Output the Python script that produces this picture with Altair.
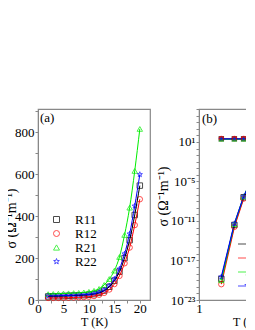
import altair as alt
import pandas as pd

series = ["R11", "R12", "R21", "R22"]
colors = ["#000000", "#ff0000", "#00ee00", "#0000ff"]
STAR = ("M0,-1L0.235,-0.324L0.951,-0.309L0.380,0.124L0.588,0.809L0,0.4"
        "L-0.588,0.809L-0.380,0.124L-0.951,-0.309L-0.235,-0.324Z")
shapes = ["square", "circle", "triangle-up", STAR]

# legend symbols for panel (b): line segment + marker
LEG_SQ = "M-2,0H2M-0.5,-0.5H0.5V0.5H-0.5Z"
LEG_CI = "M-2,0H2M0.55,0A0.55,0.55 0 1,1 -0.55,0A0.55,0.55 0 1,1 0.55,0Z"
LEG_TR = "M-2,0H2M0,-0.6L0.6,0.45H-0.6Z"
LEG_ST = ("M-2,0H2M0,-0.75L0.176,-0.243L0.713,-0.232L0.285,0.093L0.441,0.607"
          "L0,0.3L-0.441,0.607L-0.285,0.093L-0.713,-0.232L-0.176,-0.243Z")

# ---- panel (a): sigma vs T (linear)
T_a = [2, 3, 4, 5, 6, 7, 8, 9, 10, 11, 12, 13, 14, 15, 16, 17, 18, 19, 20]
sig_R11 = [17, 18, 18, 19, 20, 21, 22, 23, 25, 28, 34, 45, 63, 92, 135, 200, 285, 405, 545]
sig_R12 = [10, 10, 10, 11, 11, 12, 13, 14, 16, 19, 25, 34, 50, 76, 115, 175, 250, 357, 480]
sig_R21 = [28, 29, 30, 31, 32, 33, 34, 36, 39, 44, 53, 72, 100, 140, 205, 310, 440, 615, 815]
sig_R22 = [19, 20, 20, 21, 22, 23, 24, 25, 27, 30, 37, 48, 68, 100, 148, 220, 315, 448, 598]

# ---- panel (b): log-log, two components
T_b = [2, 3, 4, 5, 6, 7]
up_R11 = [30, 30, 30, 30, 30, 30]
up_R12 = [32, 32, 32, 32, 32, 32]
up_R21 = [27, 27, 27, 27, 27, 27]
up_R22 = [29, 29, 29, 29, 29, 29]
lo_R11 = [1.6e-20, 2.5e-12, 4.0e-8, 1.0e-5, 4.0e-4, 5.0e-3]
lo_R12 = [2.5e-21, 1.3e-12, 2.5e-8, 6.3e-6, 2.5e-4, 4.0e-3]
lo_R21 = [1.0e-20, 3.2e-12, 5.0e-8, 1.3e-5, 5.0e-4, 8.0e-3]
lo_R22 = [3.2e-20, 4.0e-12, 5.0e-8, 1.0e-5, 4.0e-4, 5.0e-3]

FONT = "Liberation Serif"

rows_a = []
for s, vals in zip(series, [sig_R11, sig_R12, sig_R21, sig_R22]):
    for t, v in zip(T_a, vals):
        rows_a.append({"series": s, "T": t, "sigma": v})
df_a = pd.DataFrame(rows_a)

rows_b = []
for s, up, lo in zip(series, [up_R11, up_R12, up_R21, up_R22],
                     [lo_R11, lo_R12, lo_R21, lo_R22]):
    for t, v in zip(T_b, up):
        rows_b.append({"series": s, "grp": "up", "T": t, "sigma": v})
    for t, v in zip(T_b, lo):
        rows_b.append({"series": s, "grp": "lo", "T": t, "sigma": v})
df_b = pd.DataFrame(rows_b)

ytitle = "σ (Ω⁻¹m⁻¹)"

# ---------------- panel (a)
xa = alt.X("T:Q", scale=alt.Scale(domain=[0, 22], nice=False),
           axis=alt.Axis(values=[0, 2.5, 5, 7.5, 10, 12.5, 15, 17.5, 20],
                         labelExpr="datum.value % 5 == 0 ? datum.label : ''",
                         title="T (K)", grid=False))
ya = alt.Y("sigma:Q", scale=alt.Scale(domain=[0, 910], nice=False),
           axis=alt.Axis(values=[0, 100, 200, 300, 400, 500, 600, 700, 800, 900],
                         labelExpr="datum.value % 200 == 0 ? datum.label : ''",
                         title=ytitle, grid=False, titleX=-20, titleY=109,
                         titleFontSize=14))
leg_a = dict(title=None, orient="none", legendX=12, legendY=104,
             symbolSize=36, symbolStrokeWidth=1,
             labelFontSize=13, labelFont=FONT, rowPadding=0,
             labelOffset=12)
col_a = alt.Color("series:N", scale=alt.Scale(domain=series, range=colors),
                  legend=alt.Legend(**leg_a))
shp_a = alt.Shape("series:N", scale=alt.Scale(domain=series, range=shapes),
                  legend=alt.Legend(**leg_a))
base_a = alt.Chart(df_a)
pts_a = base_a.mark_point(filled=False, size=30, strokeWidth=1).encode(
    x=xa, y=ya, color=col_a, shape=shp_a)
lines_a = base_a.mark_line(strokeWidth=1, interpolate="monotone").encode(
    x=xa, y=ya, color=col_a)
lab_a = alt.Chart(pd.DataFrame({"t": ["(a)"]})).mark_text(
    align="left", baseline="top", font=FONT, fontSize=13, color="black").encode(
    x=alt.value(2), y=alt.value(3), text="t:N")
panel_a = alt.layer(pts_a, lines_a, lab_a).properties(width=112, height=191)

# ---------------- panel (b)
lab_expr = ("round(log(datum.value)/LN10) == 1 ? '10¹' : "
            "round(log(datum.value)/LN10) == -5 ? '10⁻⁵' : "
            "round(log(datum.value)/LN10) == -11 ? '10⁻¹¹' : "
            "round(log(datum.value)/LN10) == -17 ? '10⁻¹⁷' : "
            "round(log(datum.value)/LN10) == -23 ? '10⁻²³' : ''")
yb_vals = [10.0 ** e for e in range(-23, 7)]
xb = alt.X("T:Q", scale=alt.Scale(type="log", domain=[1, 21], nice=False),
           axis=alt.Axis(values=[1, 10], format="d", title="T (K)", grid=False,
                         titleX=47))
yb = alt.Y("sigma:Q", scale=alt.Scale(type="log", domain=[1e-23, 1e6], nice=False),
           axis=alt.Axis(values=yb_vals, labelExpr=lab_expr, title=ytitle, grid=False,
                         titleX=-28.5, titleY=87, titleFontSize=14))
col_b = alt.Color("series:N", scale=alt.Scale(domain=series, range=colors), legend=None)
shp_b = alt.Shape("series:N", scale=alt.Scale(domain=series, range=shapes), legend=None)
base_b = alt.Chart(df_b)
lines_b = base_b.mark_line(strokeWidth=1.2).encode(
    x=xb, y=yb, color=col_b, detail="grp:N")
pts_up = base_b.transform_filter("datum.grp == 'up'").mark_point(
    filled=True, size=30).encode(x=xb, y=yb, color=col_b, shape=shp_b)
pts_lo = base_b.transform_filter("datum.grp == 'lo'").mark_point(
    filled=False, size=30, strokeWidth=1).encode(x=xb, y=yb, color=col_b, shape=shp_b)

leg_df = pd.DataFrame({"leg": series})
leg_common = dict(title=None, orient="none", legendX=44, legendY=128,
                  symbolSize=144, symbolStrokeWidth=1.2, labelFontSize=13,
                  labelFont=FONT, rowPadding=0, labelOffset=8)
leg_b = alt.Chart(leg_df).transform_filter("false").mark_point(filled=True).encode(
    color=alt.Color("leg:N", scale=alt.Scale(domain=series, range=colors),
                    legend=alt.Legend(**leg_common)),
    stroke=alt.Stroke("leg:N", scale=alt.Scale(domain=series, range=colors),
                      legend=alt.Legend(**leg_common)),
    shape=alt.Shape("leg:N", scale=alt.Scale(domain=series,
                                             range=[LEG_SQ, LEG_CI, LEG_TR, LEG_ST]),
                    legend=alt.Legend(**leg_common)))
lab_b = alt.Chart(pd.DataFrame({"t": ["(b)"]})).mark_text(
    align="left", baseline="top", font=FONT, fontSize=13, color="black").encode(
    x=alt.value(3), y=alt.value(4), text="t:N")
panel_b = alt.layer(lines_b, pts_up, pts_lo, leg_b, lab_b).resolve_scale(
    color="independent", shape="independent", stroke="independent"
).properties(width=98, height=191)

chart = alt.hconcat(panel_a, panel_b, spacing=4).resolve_scale(
    color="independent", shape="independent", stroke="independent"
).properties(
    padding={"left": -5, "top": 94, "right": -52, "bottom": 20}
).configure_view(stroke="#888888", strokeWidth=1.2).configure_axis(
    domainColor="#888888", tickColor="#888888", tickSize=3, labelPadding=1,
    labelFont=FONT, titleFont=FONT, labelFontSize=13, titleFontSize=12,
    titleFontWeight="normal", labelColor="black", titleColor="black",
    titlePadding=2, labelFlush=False, labelOverlap=False
).configure_axisX(labelPadding=-1, titlePadding=1)

chart.save("out.html", embed_options={"renderer": "svg", "actions": False})
